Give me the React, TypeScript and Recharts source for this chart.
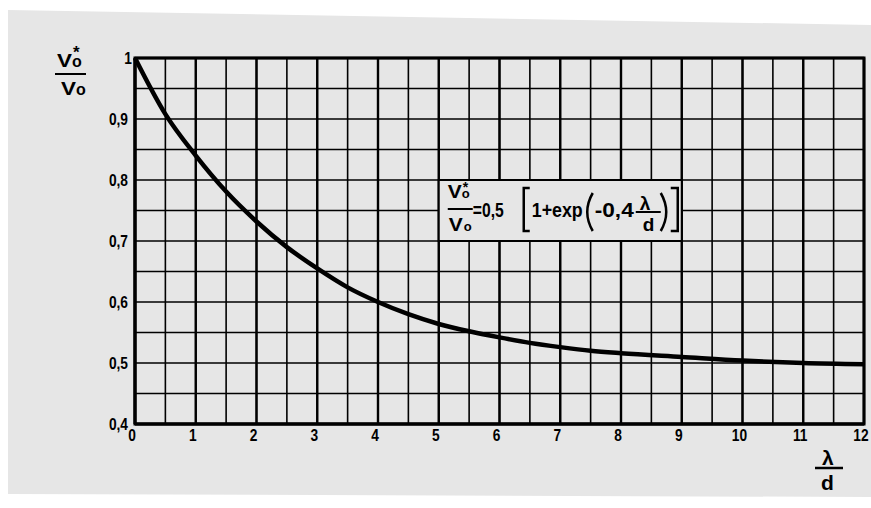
import React from 'react';
import { LineChart, Line, XAxis, YAxis, CartesianGrid, ReferenceArea } from 'recharts';

// lambda/d and V0*/V0
const lambdaOverD = [0, 0.5, 1, 1.5, 2, 2.5, 3, 3.5, 4, 4.5, 5, 5.5, 6, 6.5, 7, 7.5, 8, 9, 10, 11, 12];
const velocityRatio = [1.0, 0.908, 0.84, 0.781, 0.732, 0.69, 0.655, 0.624, 0.6, 0.58, 0.564, 0.552, 0.542, 0.533, 0.526, 0.52, 0.516, 0.51, 0.504, 0.5, 0.498];

const xGridTicks = [0, 0.5, 1, 1.5, 2, 2.5, 3, 3.5, 4, 4.5, 5, 5.5, 6, 6.5, 7, 7.5, 8, 8.5, 9, 9.5, 10, 10.5, 11, 11.5, 12];
const xLabelTicks = [0, 1, 2, 3, 4, 5, 6, 7, 8, 9, 10, 11, 12];
const yGridTicks = [0.4, 0.45, 0.5, 0.55, 0.6, 0.65, 0.7, 0.75, 0.8, 0.85, 0.9, 0.95, 1];
const yLabelTicks = [0.4, 0.5, 0.6, 0.7, 0.8, 0.9, 1];

const xDomain = [0, 12];
const yDomain = [0.4, 1];
const formulaX = [5, 9];
const formulaY = [0.7, 0.8];

const data = lambdaOverD.map((x, i) => ({ x, y: velocityRatio[i] }));

const PAPER = '#e6e6e6';
const FONT = '"Liberation Sans", Arial, sans-serif';

const isIn = (list: number[], v: number) => list.some((t) => Math.abs(t - v) < 1e-6);

const fmtX = (v: number) => (isIn(xLabelTicks, v) ? String(v) : '');
const fmtY = (v: number) => {
  if (!isIn(yLabelTicks, v)) return '';
  if (Math.abs(v - 1) < 1e-6) return '1';
  return v.toFixed(1).replace('.', ',');
};

// the scan uses a narrow, heavy sans; squeeze Liberation Sans Bold a bit
const XTick = (props: any) => {
  const { x, y, payload } = props;
  const s = fmtX(payload.value);
  if (!s) return null;
  return (
    <text
      transform={`translate(${x - 3},${y}) scale(0.86,1)`}
      textAnchor="middle"
      dy="0.72em"
      fontSize={16}
      fontWeight="bold"
      fontFamily={FONT}
      fill="#000"
    >
      {s}
    </text>
  );
};

const YTick = (props: any) => {
  const { x, y, payload } = props;
  const s = fmtY(payload.value);
  if (!s) return null;
  const dx = s === '1' ? 4 : 0;
  return (
    <text
      transform={`translate(${x + dx},${y}) scale(0.86,1)`}
      textAnchor="end"
      dy="0.36em"
      fontSize={16}
      fontWeight="bold"
      fontFamily={FONT}
      fill="#000"
    >
      {s}
    </text>
  );
};

const FormulaLabel = (props: any) => {
  const vb = props.viewBox || {};
  const x0 = vb.x ?? 0;
  const y0 = vb.y ?? 0;
  const t = (dx: number, dy: number) => ({ x: x0 + dx, y: y0 + dy });
  return (
    <g fontFamily={FONT} fontWeight="bold" fill="#000">
      <text {...t(9, 18)} fontSize={18} textLength={14} lengthAdjust="spacingAndGlyphs">V</text>
      <text {...t(23, 18)} fontSize={13}>o</text>
      <text {...t(24, 12)} fontSize={14}>*</text>
      <line x1={x0 + 9} x2={x0 + 34} y1={y0 + 29} y2={y0 + 29} stroke="#000" strokeWidth={2} />
      <text {...t(10, 51)} fontSize={18} textLength={14} lengthAdjust="spacingAndGlyphs">V</text>
      <text {...t(25, 51)} fontSize={13}>o</text>
      <text {...t(34, 37)} fontSize={20} textLength={31} lengthAdjust="spacingAndGlyphs">=0,5</text>
      <path d={`M${x0 + 91} ${y0 + 8} H${x0 + 85} V${y0 + 51} H${x0 + 91}`} fill="none" stroke="#000" strokeWidth={2.5} />
      <text {...t(93, 37)} fontSize={20} textLength={51} lengthAdjust="spacingAndGlyphs">1+exp</text>
      <path d={`M${x0 + 154} ${y0 + 13} Q${x0 + 143} ${y0 + 32} ${x0 + 154} ${y0 + 51}`} fill="none" stroke="#000" strokeWidth={2.5} />
      <text {...t(156, 37)} fontSize={20} textLength={39} lengthAdjust="spacingAndGlyphs">-0,4</text>
      <text {...t(201, 30)} fontSize={19}>λ</text>
      <line x1={x0 + 197} x2={x0 + 222} y1={y0 + 32} y2={y0 + 32} stroke="#000" strokeWidth={2} />
      <text {...t(204, 51)} fontSize={19}>d</text>
      <path d={`M${x0 + 222} ${y0 + 13} Q${x0 + 233} ${y0 + 32} ${x0 + 222} ${y0 + 51}`} fill="none" stroke="#000" strokeWidth={2.5} />
      <path d={`M${x0 + 232} ${y0 + 8} H${x0 + 239} V${y0 + 51} H${x0 + 232}`} fill="none" stroke="#000" strokeWidth={2.5} />
    </g>
  );
};

export default function App() {
  return (
    <div style={{ position: 'relative', width: 871, height: 508, background: '#fff', overflow: 'hidden' }}>
      <style>{'body{margin:0}'}</style>
      {/* the stippled sheet of the scan, slightly skewed on the white page */}
      <svg width={871} height={508} style={{ position: 'absolute', left: 0, top: 0 }}>
        <polygon points="8,10 871,25 871,497 8,494" fill={PAPER} />
      </svg>
      <LineChart
        width={871}
        height={508}
        data={data}
        margin={{ top: 58, right: 7, bottom: 0, left: 0 }}
        style={{ position: 'absolute', left: 0, top: 0 }}
      >
        <XAxis
          dataKey="x"
          type="number"
          domain={xDomain}
          ticks={xGridTicks}
          interval={0}
          tick={<XTick />}
          height={84}
          tickLine={false}
          tickSize={0}
          tickMargin={5}
          axisLine={{ stroke: '#000', strokeWidth: 3 }}
        />
        <YAxis
          type="number"
          domain={yDomain}
          ticks={yGridTicks}
          interval={0}
          tick={<YTick />}
          width={135}
          tickLine={false}
          tickSize={0}
          tickMargin={7}
          axisLine={{ stroke: '#000', strokeWidth: 3 }}
        />
        <XAxis xAxisId="major" dataKey="x" type="number" domain={xDomain} ticks={xLabelTicks} hide />
        <YAxis yAxisId="major" type="number" domain={yDomain} ticks={yLabelTicks} hide />
        <CartesianGrid stroke="#000" strokeWidth={1.6} />
        <CartesianGrid xAxisId="major" yAxisId="major" stroke="#000" strokeWidth={2.4} />
        <ReferenceArea
          x1={xDomain[0]}
          x2={xDomain[1]}
          y1={yDomain[0]}
          y2={yDomain[1]}
          fill="none"
          stroke="#000"
          strokeWidth={3}
        />
        <ReferenceArea
          x1={formulaX[0]}
          x2={formulaX[1]}
          y1={formulaY[0]}
          y2={formulaY[1]}
          fill={PAPER}
          fillOpacity={1}
          stroke="#000"
          strokeWidth={2}
          label={<FormulaLabel />}
        />
        <Line
          type="monotone"
          dataKey="y"
          stroke="#000"
          strokeWidth={4.5}
          dot={false}
          isAnimationActive={false}
        />
      </LineChart>
      <svg
        width={871}
        height={508}
        style={{ position: 'absolute', left: 0, top: 0, pointerEvents: 'none' }}
      >
        <g fontFamily={FONT} fontWeight="bold" fill="#000">
          <text x={57} y={67} fontSize={19} textLength={15} lengthAdjust="spacingAndGlyphs">V</text>
          <text x={72} y={67} fontSize={16}>o</text>
          <text x={73} y={58} fontSize={17}>*</text>
          <line x1={55} x2={86} y1={74} y2={74} stroke="#000" strokeWidth={2} />
          <text x={61} y={95} fontSize={19} textLength={15} lengthAdjust="spacingAndGlyphs">V</text>
          <text x={76} y={95} fontSize={16}>o</text>
          <text x={822} y={465} fontSize={21}>λ</text>
          <line x1={815} x2={843} y1={468} y2={468} stroke="#000" strokeWidth={2.5} />
          <text x={821} y={490} fontSize={21}>d</text>
        </g>
      </svg>
    </div>
  );
}
